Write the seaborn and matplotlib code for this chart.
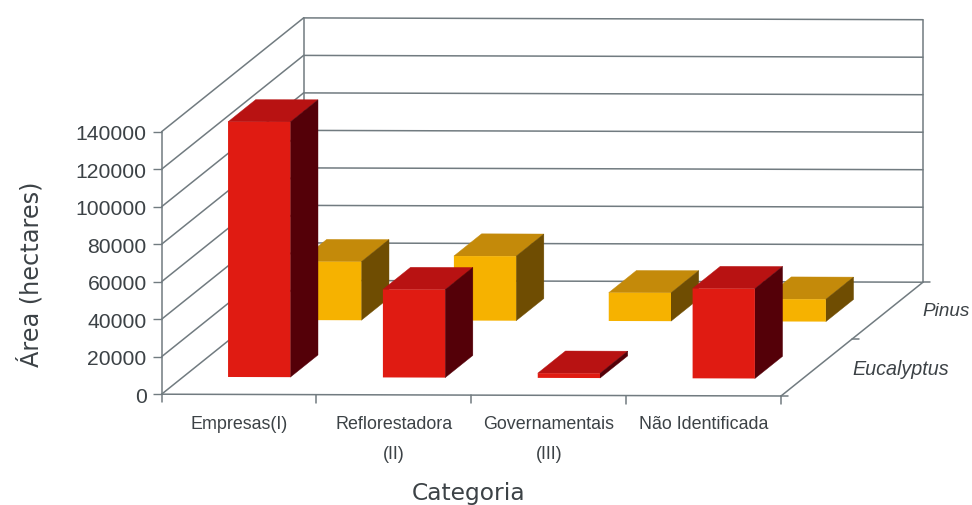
import numpy as np
import pandas as pd
import matplotlib
matplotlib.use("Agg")
import matplotlib.pyplot as plt
from matplotlib.patches import Polygon
from matplotlib.lines import Line2D
from matplotlib.transforms import Affine2D, IdentityTransform
import seaborn as sns

# Planted area per owner category, in hectares
categories = ["Empresas(I)", "Reflorestadora\n(II)", "Governamentais\n(III)", "Não Identificada"]
eucalyptus = [136100, 46900, 2500, 47900]
pinus = [31200, 34400, 15100, 11900]
y_ticks = [0, 20000, 40000, 60000, 80000, 100000, 120000, 140000]
series_names = ["Eucalyptus", "Pinus"]

sns.set_theme(style="ticks")
plt.rcParams["font.family"] = ["Liberation Sans", "DejaVu Sans"]

W, H = 972, 506
INK = "#3c4246"
LINE = "#717b80"
fig = plt.figure(figsize=(W / 100, H / 100), dpi=100, facecolor="white")
ax = fig.add_axes([161.6 / W, (H - 395.2) / H, 619.4 / W, 262.5 / H])
ax.patch.set_visible(False)

# Oblique depth: one depth unit per series row, plus a slight clockwise drift
DEPTH = np.array([71.0, 56.9])
BAR_NUDGE = -1.5
BAR_WIDTH = 0.402
HALF_DEPTH = 0.195
x0_px = 161.6
k = -1.8 / 619.4
tilt = Affine2D(np.array([[1, 0, 0], [k, 1, -k * x0_px], [0, 0, 1]]))


def draw_row(values, row, front, side, top, z):
    """Draw one row of bars: seaborn draws the front faces, polygons add the depth."""
    n_before = len(ax.patches)
    frame = pd.DataFrame({"categoria": categories, "area": values})
    sns.barplot(data=frame, x="categoria", y="area", color=front, saturation=1,
                width=BAR_WIDTH, ax=ax, order=categories)
    ax.set_xlim(-0.5, 3.5)
    ax.set_ylim(0, 140000)
    return n_before, row, front, side, top, z


rows = [
    draw_row(pinus, 1, "#F6B200", "#6F4D02", "#C48A0A", 3),
    draw_row(eucalyptus, 0, "#E01B12", "#540008", "#B81212", 5),
]
row_values = {0: eucalyptus, 1: pinus}
n_bars = len(categories)


def project(x, v, d, nudge=0.0):
    """Data position at depth d to display pixels."""
    p = tilt.transform(ax.transData.transform((x, v)))
    return (p[0] + d * DEPTH[0] + nudge, p[1] + d * DEPTH[1])


def add_poly(points, color, z):
    ax.add_patch(Polygon(points, closed=True, facecolor=color, edgecolor=color, linewidth=0.3,
                         transform=IdentityTransform(), clip_on=False, zorder=z))


def add_line(a, b, z=1, lw=1.1):
    ax.add_line(Line2D([a[0], b[0]], [a[1], b[1]], color=LINE, lw=lw,
                       transform=IdentityTransform(), clip_on=False, zorder=z))


# Finish the bars: shift front faces to their row and add the top and side faces
for n_before, row, front, side, top, z in rows:
    d_front = row + 0.5 - HALF_DEPTH
    d_back = row + 0.5 + HALF_DEPTH
    shift = Affine2D().translate(d_front * DEPTH[0] + BAR_NUDGE, d_front * DEPTH[1])
    for i, patch in enumerate(ax.patches[n_before:n_before + n_bars]):
        patch.set_transform(ax.transData + tilt + shift)
        patch.set_zorder(z + 0.5)
        patch.set_edgecolor("none")
        patch.set_clip_on(False)
        v = row_values[row][i]
        xl, xr = i - BAR_WIDTH / 2, i + BAR_WIDTH / 2
        add_poly([project(xl, v, d_front, BAR_NUDGE), project(xr, v, d_front, BAR_NUDGE),
                  project(xr, v, d_back, BAR_NUDGE), project(xl, v, d_back, BAR_NUDGE)], top, z)
        add_poly([project(xr, 0, d_front, BAR_NUDGE), project(xr, v, d_front, BAR_NUDGE),
                  project(xr, v, d_back, BAR_NUDGE), project(xr, 0, d_back, BAR_NUDGE)], side, z)

# Back wall, left wall and floor frame
for v in y_ticks:
    add_line(project(-0.5, v, 0), project(-0.5, v, 2))
    add_line(project(-0.5, v, 2), project(3.5, v, 2))
add_line(project(-0.5, 0, 2), project(-0.5, 140000, 2))
add_line(project(3.5, 0, 2), project(3.5, 140000, 2))
add_line(project(-0.5, 0, 0), project(3.5, 0, 0), z=2)
add_line(project(3.5, 0, 0), project(3.5, 0, 2), z=2)

# Tick marks along the category and series edges
for edge in np.arange(-0.5, 4.0, 1.0):
    a = project(edge, 0, 0)
    add_line(a, (a[0], a[1] - 8), z=2)
for d in [0, 1, 2]:
    a = project(3.5, 0, d)
    add_line(a, (a[0] + 7, a[1]), z=2)

# Axes decoration
for name in ["top", "right", "bottom"]:
    ax.spines[name].set_visible(False)
ax.spines["left"].set_color(LINE)
ax.spines["left"].set_linewidth(1.1)
ax.set_yticks(y_ticks)
ax.set_yticklabels([str(v) for v in y_ticks])
ax.tick_params(axis="y", length=6.2, width=1.0, color=LINE, pad=4.5, labelsize=15.2, labelcolor=INK)
ax.set_xticks(range(n_bars))
ax.set_xticklabels(categories)
ax.tick_params(axis="x", length=0, pad=14.8, labelsize=12.9, labelcolor=INK)
for label in ax.get_xticklabels():
    label.set_linespacing(2.05)

ax.set_ylabel("Área (hectares)", family="DejaVu Sans", fontsize=17.3, color=INK)
ax.yaxis.set_label_coords((44 - 161.6) / 619.4, (395.2 - 274) / 262.5)
ax.set_xlabel("Categoria", family="DejaVu Sans", fontsize=16.8, color=INK)
ax.xaxis.set_label_coords((469 - 161.6) / 619.4, (395.2 - 482.5) / 262.5)

# Series names beside the depth axis
for name, px, py, size in zip(series_names, [901, 946], [369.7, 311], [14.2, 13.6]):
    fig.text(px / W, (H - py) / H, name, style="italic", fontsize=size, color=INK,
             ha="center", va="center")

fig.savefig("out.png", dpi=100, facecolor="white")
